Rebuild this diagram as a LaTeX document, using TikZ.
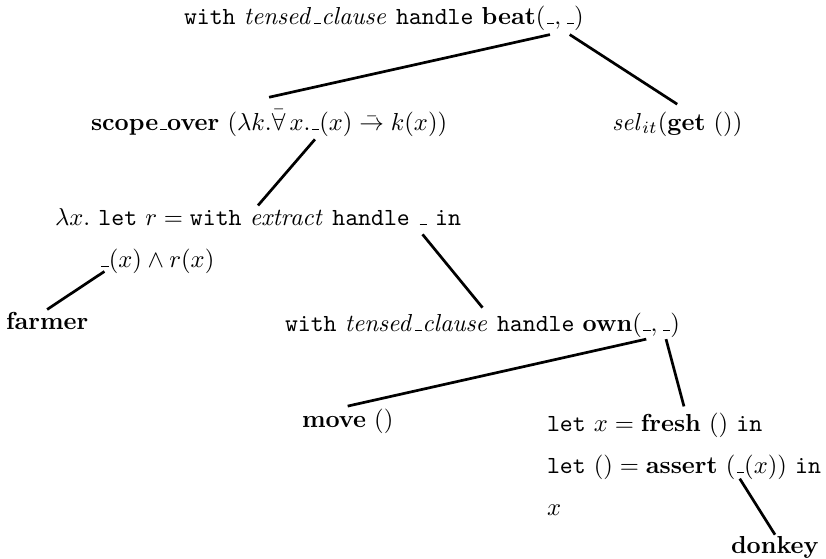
\documentclass[tikz,border=0pt]{standalone}
\usepackage{amsmath,amssymb}
\usetikzlibrary{calc}
\newcommand{\ph}{\mathord{\kern.06em\vbox{\hrule width.3em}}}
\begin{document}
\begin{tikzpicture}[x=0.4065pt,y=-0.4065pt,
  lbl/.style={anchor=base west,inner sep=0pt,outer sep=0pt},
  hole/.style={anchor=base west,inner sep=0pt,outer sep=0pt},
  edge/.style={line width=1.1pt}]
\useasboundingbox (0,0) rectangle (826,558);
% top
\node[lbl] (top) at (184,24) {$\mathtt{with}\ \mathit{tensed}\ph\mathit{clause}\ \mathtt{handle}\ \mathbf{beat}($};
\node[hole] (topH1) at (top.base east) {$\ph$};
\node[lbl] (topC) at (topH1.base east) {$,\,$};
\node[hole] (topH2) at (topC.base east) {$\ph$};
\node[lbl] (topE) at (topH2.base east) {$)$};
% scope
\node[lbl] (scope) at (91,130) {$\mathbf{scope}\ph\mathbf{over}\ (\lambda k.\bar{\forall}\,x.$};
\node[hole] (scopeH) at (scope.base east) {$\ph$};
\node[lbl] (scopeE) at (scopeH.base east) {$(x)\mathrel{\bar{\rightarrow}}k(x))$};
% sel
\node[lbl] (sel) at (612,130) {$\mathit{sel}_{it}(\mathbf{get}\ ())$};
% lambda
\node[lbl] (lam) at (55,225) {$\lambda x.\ \mathtt{let}\ r = \mathtt{with}\ \mathit{extract}\ \mathtt{handle}\ $};
\node[hole] (lamH) at (lam.base east) {$\ph$};
\node[lbl] (lamE) at (lamH.base east) {$\ \mathtt{in}$};
\node[hole] (lamH2) at (100,267) {$\ph$};
\node[lbl] (lam2) at (lamH2.base east) {$(x)\wedge r(x)$};
% farmer
\node[lbl] (farmer) at (6,329) {$\mathbf{farmer}$};
% own
\node[lbl] (own) at (285,331) {$\mathtt{with}\ \mathit{tensed}\ph\mathit{clause}\ \mathtt{handle}\ \mathbf{own}($};
\node[hole] (ownH1) at (own.base east) {$\ph$};
\node[lbl] (ownC) at (ownH1.base east) {$,\,$};
\node[hole] (ownH2) at (ownC.base east) {$\ph$};
\node[lbl] (ownE) at (ownH2.base east) {$)$};
% move
\node[lbl] (move) at (302,427) {$\mathbf{move}\ ()$};
% let block
\node[lbl] (let1) at (547,431) {$\mathtt{let}\ x = \mathbf{fresh}\ ()\ \mathtt{in}$};
\node[lbl] (let2) at (547,473) {$\mathtt{let}\ () = \mathbf{assert}\ ($};
\node[hole] (let2H) at (let2.base east) {$\ph$};
\node[lbl] (let2E) at (let2H.base east) {$(x))\ \mathtt{in}$};
\node[lbl] (let3) at (547,515) {$x$};
% donkey
\node[lbl] (donkey) at (731,553) {$\mathbf{donkey}$};
% centre points of composed texts
\coordinate (scopeC) at ($(scope.west)!0.5!(scopeE.east)$);
\coordinate (lamC) at ($(lam.west)!0.5!(lamE.east)$);
\coordinate (ownC0) at ($(own.west)!0.5!(ownE.east)$);
\coordinate (letC) at ($(let2.west)!0.5!(let2E.east)$);
% edges
\draw[edge] ([yshift=-4pt]topH1.south) -- ([yshift=5pt]scopeC |- scope.north);
\draw[edge] ([yshift=-4pt]topH2.south) -- ([yshift=3pt]sel.north);
\draw[edge] ([yshift=-3.5pt]scopeH.south) -- ([yshift=1pt]lamC |- lam.north);
\draw[edge] ([yshift=-1.5pt]lamH2.south) -- ([yshift=1pt]farmer.north);
\draw[edge] ([yshift=-3.5pt]lamH.south) -- ([yshift=2pt]ownC0 |- own.north);
\draw[edge] ([yshift=-3pt]ownH1.south) -- ([yshift=1pt]move.north);
\draw[edge] ([yshift=-3pt]ownH2.south) -- ([yshift=2.5pt]letC |- let1.north);
\draw[edge] ([yshift=-2pt]let2H.south) -- ([yshift=0.5pt]donkey.north);
\end{tikzpicture}
\end{document}
